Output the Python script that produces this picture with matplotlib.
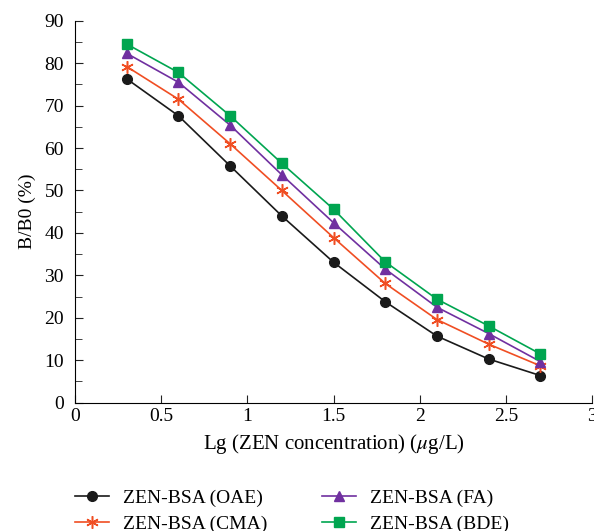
#! /usr/bin/env python3
# Recreate the B/B0 inhibition curves for the four ZEN-BSA conjugates.

import matplotlib
matplotlib.use("Agg")
import matplotlib.pyplot as plt
from matplotlib.ticker import MultipleLocator

# data
lg_conc = [0.3, 0.6, 0.9, 1.2, 1.5, 1.8, 2.1, 2.4, 2.7]
oae = [76.3, 67.6, 55.8, 44.0, 33.1, 23.8, 15.7, 10.3, 6.4]
cma = [79.2, 71.5, 61.0, 50.0, 38.9, 28.1, 19.6, 13.8, 8.7]
fa = [82.3, 75.5, 65.4, 53.7, 42.4, 31.5, 22.5, 16.3, 9.7]
bde = [84.5, 77.8, 67.6, 56.4, 45.6, 33.2, 24.4, 18.1, 11.5]
labels = ["ZEN-BSA (OAE)", "ZEN-BSA (CMA)", "ZEN-BSA (FA)", "ZEN-BSA (BDE)"]

plt.rcParams["font.family"] = ["Liberation Serif", "DejaVu Serif"]
plt.rcParams["mathtext.fontset"] = "stix"

fig = plt.figure(figsize=(5.94, 5.31), dpi=100)
ax = fig.add_axes([0.1263, 0.2416, 0.8703, 0.7194])

# one line per conjugate
ax.plot(lg_conc, oae, color="#1a1a1a", marker="o", markersize=7, lw=1.2, label=labels[0])
ax.plot(lg_conc, cma, color="#f04e23", marker=(6, 2, 0), markersize=9, lw=1.2,
        markeredgewidth=1.1, label=labels[1])
ax.plot(lg_conc, fa, color="#7030a0", marker="^", markersize=7, lw=1.2, label=labels[2])
ax.plot(lg_conc, bde, color="#00a550", marker="s", markersize=6.5, lw=1.2, label=labels[3])

ax.set_xlim(0, 3)
ax.set_ylim(0, 90)
ax.yaxis.set_major_locator(MultipleLocator(10))
ax.yaxis.set_minor_locator(MultipleLocator(5))
ax.set_xticks([0, 0.5, 1, 1.5, 2, 2.5, 3])
ax.set_xticklabels(["0", "0.5", "1", "1.5", "2", "2.5", "3"])

ax.spines["top"].set_visible(False)
ax.spines["right"].set_visible(False)
ax.tick_params(which="both", direction="in", labelsize=14, color="#222222")
ax.tick_params(which="major", length=6)
ax.tick_params(which="minor", length=5)
ax.tick_params(axis="y", pad=8)

ax.set_xlabel("Lg (ZEN concentration) ($\\mu$g/L)", fontsize=15, labelpad=5)
ax.set_ylabel("B/B0 (%)", fontsize=14, labelpad=6)

# two column legend under the plot, no frame
fig.legend(loc="upper left", bbox_to_anchor=(0.1263, 0.078), ncol=2, frameon=False,
           fontsize=14, handlelength=1.75, handletextpad=0.7, columnspacing=2.85,
           labelspacing=0.4, borderaxespad=0, borderpad=0)

fig.savefig("out.png", dpi=100)
